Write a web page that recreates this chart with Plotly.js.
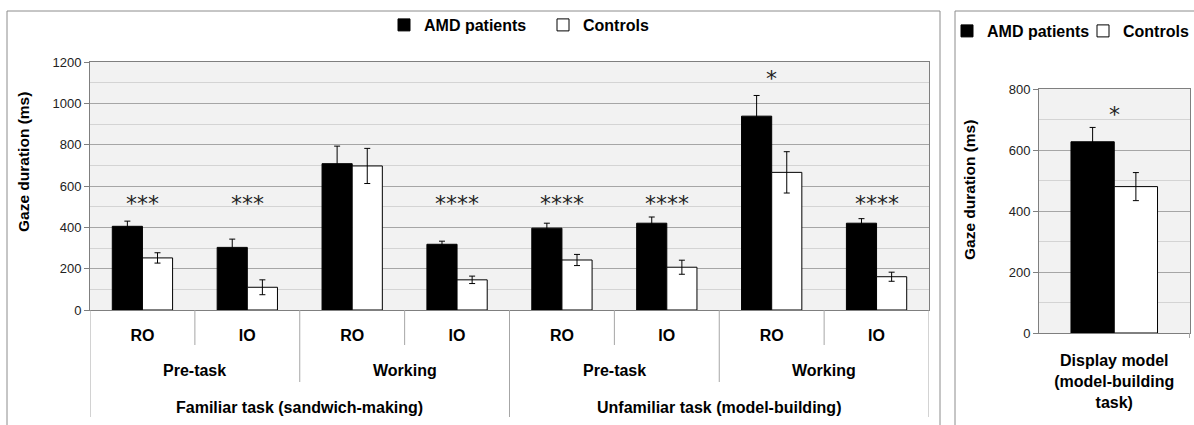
<!DOCTYPE html>
<html>
<head>
<meta charset="utf-8">
<script src="https://cdn.plot.ly/plotly-3.0.1.min.js"></script>
<style>html,body{margin:0;padding:0;background:#fff;overflow:hidden;}#chart{width:1194px;height:425px;}</style>
</head>
<body>
<div id="chart"></div>
<script>
// ---- data ----
const aoiLabels = ['RO', 'IO', 'RO', 'IO', 'RO', 'IO', 'RO', 'IO'];
const phaseLabels = ['Pre-task', 'Working', 'Pre-task', 'Working'];
const taskLabels = ['Familiar task (sandwich-making)', 'Unfamiliar task (model-building)'];
const amdMeans = [405, 303, 708, 318, 396, 420, 938, 420];
const amdErr = [25, 40, 85, 15, 24, 30, 100, 22];
const ctrlMeans = [252, 110, 697, 146, 242, 207, 666, 161];
const ctrlErr = [25, 36, 85, 18, 27, 34, 100, 22];
const sigLabels = ['***', '***', '', '****', '****', '****', '*', '****'];

const displayCategory = ['Display model<br>(model-building<br>task)'];
const displayAmd = [627];
const displayAmdErr = [47];
const displayCtrl = [480];
const displayCtrlErr = [46];
const displaySig = ['*'];

const seriesNames = ['AMD patients', 'Controls'];
const yTitle = 'Gaze duration (ms)';

// ---- layout helpers ----
const W = 1194, H = 425;
const px = v => v / W;
const py = v => 1 - v / H;
const bold = {family: 'Liberation Sans, Arial, sans-serif', size: 16, color: '#000', weight: 700};
const tickFont = {family: 'Liberation Sans, Arial, sans-serif', size: 13, color: '#222'};
const starFont = {family: 'DejaVu Sans, sans-serif', size: 22, color: '#222'};
const idx = aoiLabels.map((_, i) => i);

function barTrace(x, y, err, name, fill, xa, ya, lg) {
  return {
    type: 'bar', x: x, y: y, name: name, xaxis: xa, yaxis: ya, legend: lg, showlegend: true,
    marker: {color: fill, line: {color: '#000', width: 1}},
    error_y: {type: 'data', array: err, visible: true, color: '#000', thickness: 1, width: 3},
    hoverinfo: 'none'
  };
}

const data = [
  barTrace(idx, amdMeans, amdErr, seriesNames[0], '#000', 'x', 'y', 'legend'),
  barTrace(idx, ctrlMeans, ctrlErr, seriesNames[1], '#fff', 'x', 'y', 'legend'),
  barTrace(displayCategory, displayAmd, displayAmdErr, seriesNames[0], '#000', 'x2', 'y2', 'legend2'),
  barTrace(displayCategory, displayCtrl, displayCtrlErr, seriesNames[1], '#fff', 'x2', 'y2', 'legend2')
];

const gridMajor = '#a6a6a6', gridMinor = '#d4d4d4', frame = '#7f7f7f', sep = '#a6a6a6';

const shapes = [];
// panel frames
const frameLine = {type: 'line', xref: 'paper', yref: 'paper', line: {color: '#8c8c8c', width: 1}};
shapes.push(Object.assign({}, frameLine, {x0: px(7), x1: px(940), y0: py(11), y1: py(11)}));
shapes.push(Object.assign({}, frameLine, {x0: px(7), x1: px(7), y0: py(11), y1: py(426)}));
shapes.push(Object.assign({}, frameLine, {x0: px(940), x1: px(940), y0: py(11), y1: py(426)}));
shapes.push(Object.assign({}, frameLine, {x0: px(955), x1: px(1195), y0: py(11), y1: py(11)}));
shapes.push(Object.assign({}, frameLine, {x0: px(955), x1: px(955), y0: py(11), y1: py(426)}));
// category separators
for (let i = 0; i <= aoiLabels.length; i++) {
  const bottom = i % 4 === 0 ? 417 : (i % 2 === 0 ? 382 : 345);
  shapes.push({type: 'line', xref: 'x', yref: 'paper', x0: i - 0.5, x1: i - 0.5,
    y0: py(310), y1: py(bottom), line: {color: sep, width: 1}});
}
shapes.push({type: 'line', xref: 'x2', yref: 'paper', x0: 0.5, x1: 0.5, y0: py(333), y1: py(338), line: {color: sep, width: 1}});

const annotations = [];
phaseLabels.forEach((t, k) => annotations.push({
  text: t, xref: 'x', yref: 'paper', x: 2 * k + 0.5, y: py(370), showarrow: false,
  xanchor: 'center', yanchor: 'middle', font: bold}));
taskLabels.forEach((t, k) => annotations.push({
  text: t, xref: 'x', yref: 'paper', x: 4 * k + 1.5, y: py(407), showarrow: false,
  xanchor: 'center', yanchor: 'middle', font: bold}));
sigLabels.forEach((t, i) => {
  if (!t) return;
  const single = t.length === 1;
  annotations.push({
    text: t, xref: 'x', yref: single ? 'y' : 'paper', x: i,
    y: single ? Math.max(amdMeans[i] + amdErr[i], ctrlMeans[i] + ctrlErr[i]) : py(203),
    yshift: single ? 2 : 0,
    showarrow: false, xanchor: 'center', yanchor: single ? 'bottom' : 'middle', font: starFont});
});
displaySig.forEach((t, i) => annotations.push({
  text: t, xref: 'x2', yref: 'y2', x: 0,
  y: Math.max(displayAmd[i] + displayAmdErr[i], displayCtrl[i] + displayCtrlErr[i]),
  yshift: -2, showarrow: false, xanchor: 'center', yanchor: 'bottom', font: starFont}));
annotations.push({text: yTitle, xref: 'paper', yref: 'paper', x: px(23.5), y: py(162.5),
  textangle: -90, showarrow: false, xanchor: 'center', yanchor: 'middle', font: Object.assign({}, bold, {size: 15.5})});
annotations.push({text: yTitle, xref: 'paper', yref: 'paper', x: px(970), y: py(190),
  textangle: -90, showarrow: false, xanchor: 'center', yanchor: 'middle', font: Object.assign({}, bold, {size: 15.5})});

const yCommon = {
  dtick: 200, tick0: 0, showgrid: true, gridcolor: gridMajor, gridwidth: 1,
  minor: {dtick: 100, showgrid: true, gridcolor: gridMinor, gridwidth: 1, ticks: ''},
  showline: true, linecolor: frame, linewidth: 1, mirror: true,
  ticks: 'outside', ticklen: 5, tickcolor: frame, tickfont: tickFont, zeroline: false, fixedrange: true
};

const layout = {
  width: W, height: H, autosize: false,
  margin: {l: 0, r: 0, t: 0, b: 0, autoexpand: false},
  paper_bgcolor: '#fff', plot_bgcolor: '#f2f2f2',
  barmode: 'group', bargap: 0.425, bargroupgap: 0,
  xaxis: {domain: [px(90), px(929)], range: [-0.5, aoiLabels.length - 0.5], automargin: false,
    tickvals: idx, ticktext: aoiLabels, ticks: '', tickfont: bold, ticklabelstandoff: 11,
    showline: true, linecolor: frame, linewidth: 1, mirror: true, showgrid: false, zeroline: false, fixedrange: true},
  yaxis: Object.assign({}, yCommon, {domain: [py(310), py(62)], range: [0, 1200], automargin: false}),
  xaxis2: {domain: [px(1039), px(1190)], anchor: 'y2', type: 'category', ticks: '', tickfont: bold,
    ticklabelstandoff: 13, automargin: false,
    showline: true, linecolor: frame, linewidth: 1, mirror: true, showgrid: false, zeroline: false, fixedrange: true},
  yaxis2: Object.assign({}, yCommon, {domain: [py(333), py(89)], range: [0, 800], anchor: 'x2', automargin: false}),
  legend: {orientation: 'h', x: px(384), y: py(25), xanchor: 'left', yanchor: 'middle',
    font: bold, bgcolor: 'rgba(0,0,0,0)', entrywidth: 114, entrywidthmode: 'pixels', traceorder: 'normal'},
  legend2: {orientation: 'h', x: px(947), y: py(31), xanchor: 'left', yanchor: 'middle',
    font: bold, bgcolor: 'rgba(0,0,0,0)', entrywidth: 91, entrywidthmode: 'pixels', traceorder: 'normal'},
  shapes: shapes,
  annotations: annotations,
  showlegend: true
};

Plotly.newPlot('chart', data, layout, {displayModeBar: false, staticPlot: true});
</script>
</body>
</html>
